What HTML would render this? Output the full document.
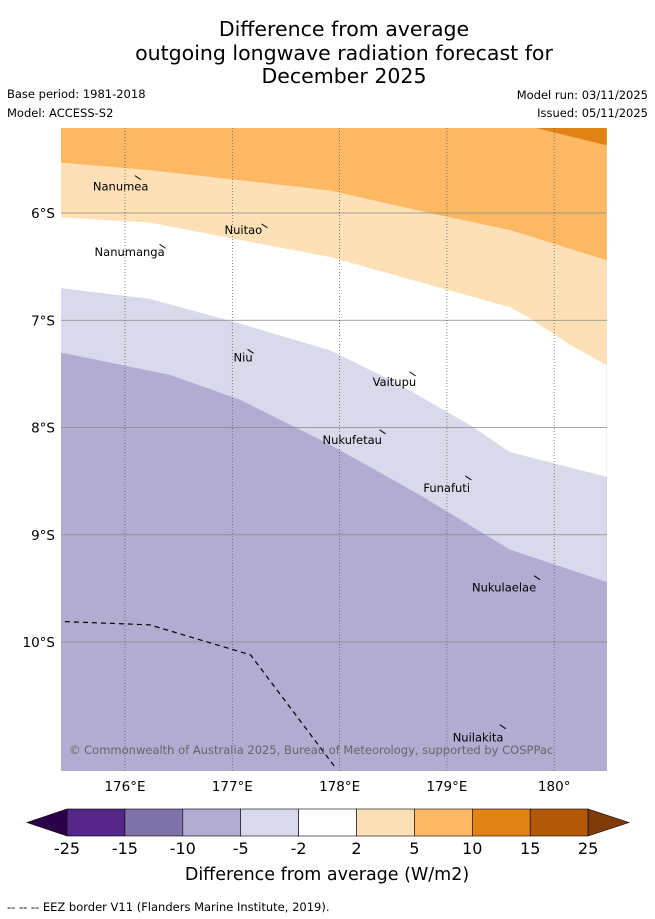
<!DOCTYPE html>
<html><head><meta charset="utf-8"><style>
body{margin:0;background:#fff;font-family:"DejaVu Sans","Liberation Sans",sans-serif;}
svg{display:block}
</style></head><body>
<svg width="655" height="919" viewBox="0 0 655 919" font-family="DejaVu Sans, Liberation Sans, sans-serif">
<g font-size="20.5" text-anchor="middle" fill="#000">
<text x="344" y="36">Difference from average</text>
<text x="344" y="60">outgoing longwave radiation forecast for</text>
<text x="344" y="83">December 2025</text>
</g>
<g font-size="11.5" fill="#000">
<text x="7" y="98">Base period: 1981-2018</text>
<text x="7" y="117">Model: ACCESS-S2</text>
<text x="648" y="99" text-anchor="end">Model run: 03/11/2025</text>
<text x="648" y="117" text-anchor="end">Issued: 05/11/2025</text>
</g>
<defs><clipPath id="mc"><rect x="61" y="128" width="546" height="643"/></clipPath></defs>
<g id="map" clip-path="url(#mc)"></g>
<g id="axes"></g>
<g id="cbar"></g>
<text x="327" y="880" font-size="17.5" text-anchor="middle">Difference from average (W/m2)</text>
<text x="7" y="911" font-size="11.5">--  --  -- EEZ border V11 (Flanders Marine Institute, 2019).</text>
</svg>
<script>
const NS="http://www.w3.org/2000/svg";
// contour boundary lines (lon °E, lat °S)
const line10Lon=[179.72,180.49], line10Lat=[5.18,5.37];
const line5Lon=[175.40,176.23,177.91,178.84,179.59,180.49], line5Lat=[5.53,5.60,5.79,6.00,6.16,6.44];
const line2Lon=[175.40,176.23,177.91,178.84,179.59,179.77,180.15,180.49], line2Lat=[6.04,6.09,6.41,6.67,6.88,6.98,7.23,7.42];
const lineM2Lon=[175.40,176.23,177.07,177.91,178.56,179.22,179.59,180.49], lineM2Lat=[6.70,6.80,7.03,7.28,7.60,7.98,8.23,8.46];
const lineM5Lon=[175.40,176.42,177.07,177.91,178.75,179.59,180.49], lineM5Lat=[7.30,7.51,7.74,8.16,8.63,9.14,9.44];
const eezLon=[175.44,176.23,177.17,177.96], eezLat=[9.81,9.84,10.12,11.17];
const lonTicks=[176,177,178,179,180], lonLabels=["176°E","177°E","178°E","179°E","180°"];
const latTicks=[6,7,8,9,10], latLabels=["6°S","7°S","8°S","9°S","10°S"];
const islandNames=["Nanumea","Nuitao","Nanumanga","Niu","Vaitupu","Nukufetau","Funafuti","Nukulaelae","Nuilakita"];
const islandLon=[176.12,177.30,176.35,177.17,178.68,178.40,179.20,179.84,179.52];
const islandLat=[5.67,6.12,6.31,7.29,7.50,8.04,8.47,9.40,10.79];
const labelDx=[-45,-40,-68,-17,-40,-60,-45,-65,-50], labelDy=[13,8,10,10,12,12,14,14,15];
const cbLabels=["-25","-15","-10","-5","-2","2","5","10","15","25"];
const cbColors=["#542788","#8073ac","#b2abd2","#d8daeb","#ffffff","#fee0b6","#fdb863","#e08214","#b35806"];

const X=l=>125+(l-176)*107.3, Y=l=>213+(l-6)*107.25;
function el(t,a,p){const e=document.createElementNS(NS,t);for(const k in a)e.setAttribute(k,a[k]);p.appendChild(e);return e;}
const map=document.getElementById('map'), axes=document.getElementById('axes'), cb=document.getElementById('cbar');
let r=el('rect',{x:61,y:128,width:546,height:643,fill:'#b2abd2'},map);


function region(lon,lat,fill,name){
  let pts=lon.map((v,i)=>X(v)+','+Y(lat[i]));
  pts.push(X(lon[lon.length-1])+',100', X(lon[0])+',100');
  const p=el('polygon',{points:pts.join(' '),fill:fill},map);
  
  
}
region(lineM5Lon,lineM5Lat,'#d8daeb','region-minus5-minus2');
region(lineM2Lon,lineM2Lat,'#ffffff','region-minus2-2');
region(line2Lon,line2Lat,'#fee0b6','region-2-5');
region(line5Lon,line5Lat,'#fdb863','region-5-10');
region(line10Lon,line10Lat,'#e08214','region-10-15');
// gridlines
latTicks.forEach(v=>{const g=el('line',{x1:61,x2:607,y1:Y(v),y2:Y(v),stroke:'#888','stroke-width':0.7},map);

});
lonTicks.forEach(v=>{const g=el('line',{x1:X(v),x2:X(v),y1:128,y2:771,stroke:'#555','stroke-width':0.7,'stroke-dasharray':'1,2'},map);

});
// eez
const ez=el('polyline',{points:eezLon.map((v,i)=>X(v)+','+Y(eezLat[i])).join(' '),fill:'none',stroke:'#000','stroke-width':1.2,'stroke-dasharray':'5,4'},map);


// islands
islandNames.forEach((n,i)=>{
  const x=X(islandLon[i]),y=Y(islandLat[i]);
  const m=el('path',{d:`M${x-3},${y-2} L${x+3},${y+2}`,stroke:'#000','stroke-width':1,fill:'none'},map);
  
  
  const t=el('text',{x:x+labelDx[i],y:y+labelDy[i],'font-size':11.5,fill:'#000'},map);
  t.textContent=n;
  
  
});
const c=el('text',{x:69,y:754,'font-size':11.5,fill:'#666'},map);
c.textContent='© Commonwealth of Australia 2025, Bureau of Meteorology, supported by COSPPac';


// axis labels
lonTicks.forEach((v,i)=>{const t=el('text',{x:X(v),y:791,'font-size':13.5,'text-anchor':'middle'},axes);t.textContent=lonLabels[i];

});
latTicks.forEach((v,i)=>{const t=el('text',{x:55,y:Y(v)+5,'font-size':13.5,'text-anchor':'end'},axes);t.textContent=latLabels[i];

});
// colorbar
const cx0=67,cw=57.9,cy=809,ch=27;
let a=el('polygon',{points:`${cx0},${cy} 27,${cy+ch/2} ${cx0},${cy+ch}`,fill:'#2d004b',stroke:'#000','stroke-width':0.6},cb);


cbColors.forEach((col,i)=>{const s=el('rect',{x:cx0+i*cw,y:cy,width:cw,height:ch,fill:col,stroke:'#000','stroke-width':0.6},cb);

});
const ex=cx0+9*cw;
a=el('polygon',{points:`${ex},${cy} 629,${cy+ch/2} ${ex},${cy+ch}`,fill:'#7f3b08',stroke:'#000','stroke-width':0.6},cb);


cbLabels.forEach((l,i)=>{const t=el('text',{x:cx0+i*cw,y:854,'font-size':16,'text-anchor':'middle'},cb);t.textContent=l;

});
</script>
</body></html>
